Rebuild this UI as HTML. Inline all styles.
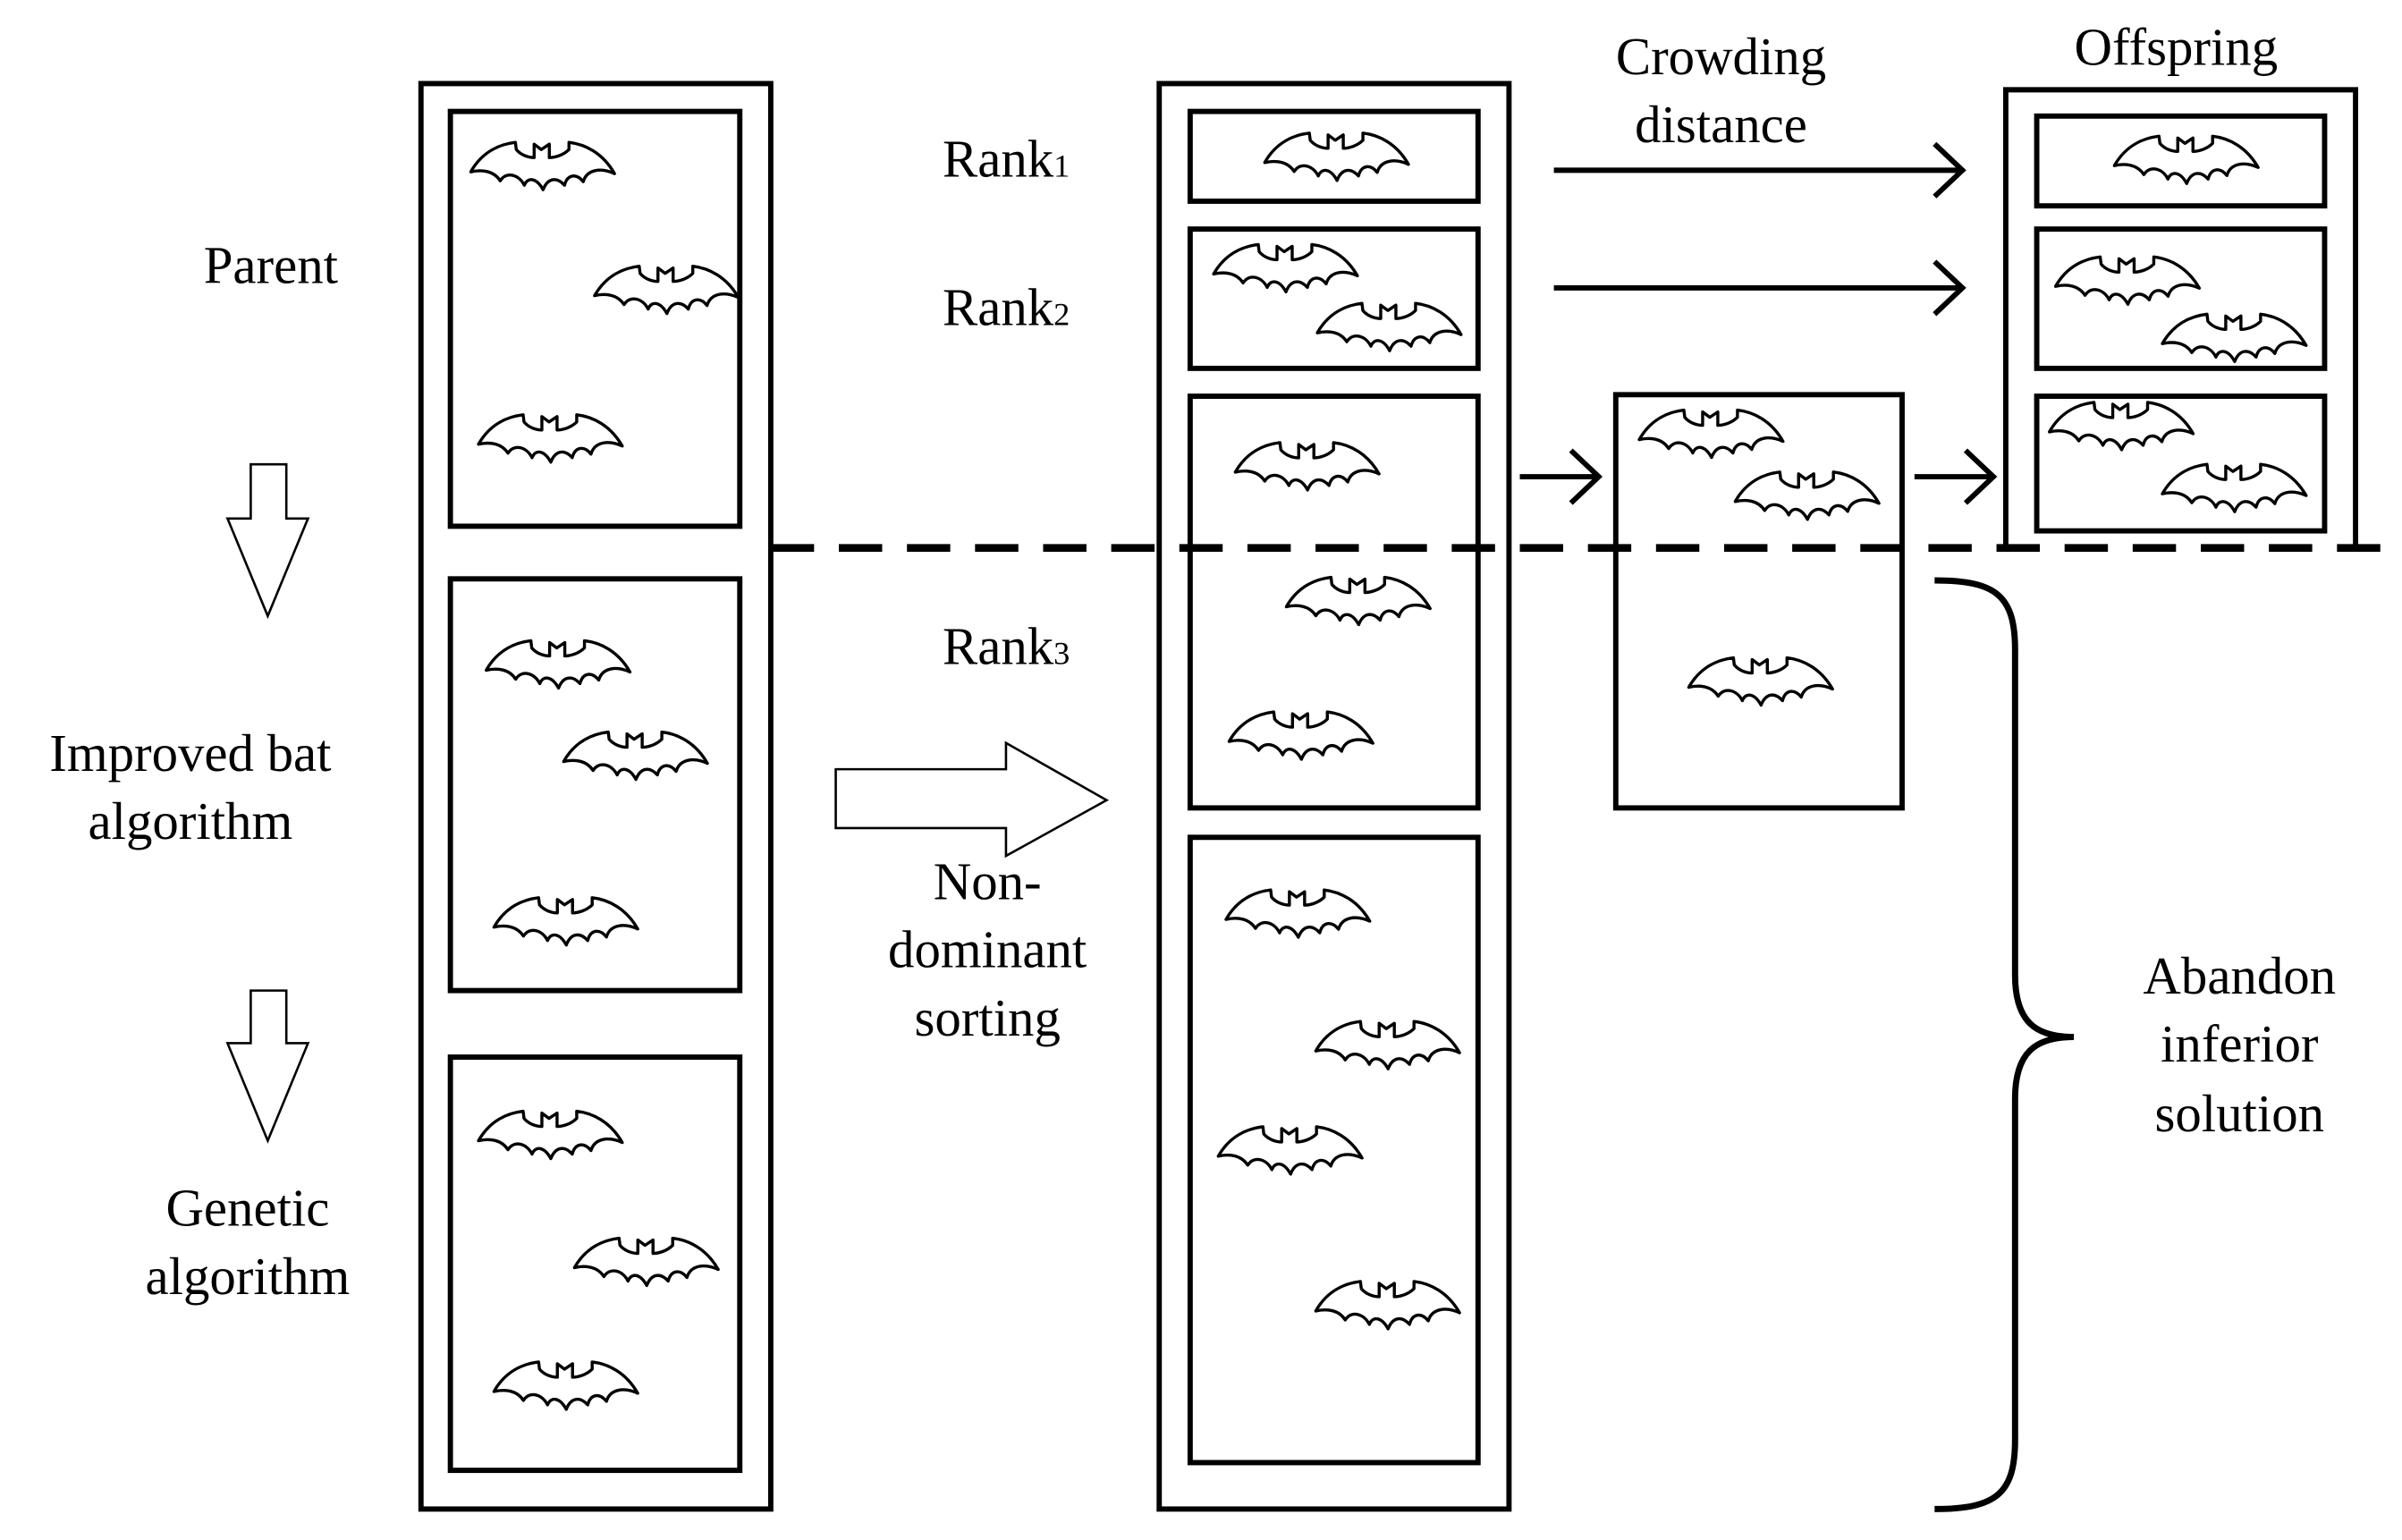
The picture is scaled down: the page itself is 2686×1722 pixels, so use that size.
<!DOCTYPE html>
<html><head><meta charset="utf-8"><style>html,body{margin:0;padding:0;background:#fff}svg{display:block}</style></head><body>
<svg width="2686" height="1722" viewBox="0 0 1552 995" xmlns="http://www.w3.org/2000/svg">
<defs>
<path id="bat" transform="scale(0.577)" fill="#fff" stroke="#000" stroke-width="3.4" stroke-linejoin="round" d="M2,33 C15,10 35,2 52,0 L53,8 C58,14 66,17 73,17 L73,2 L81,8 L90,2 L90,17 C97,17 106,14 112,8 L112,0 C130,2 150,12 163,35 C148,28 132,30 128,44 C120,34 110,36 107,48 C98,38 88,40 83,53 C76,40 66,38 62,48 C56,36 42,32 35,43 C28,32 15,30 2,33 Z"/>
</defs>
<g fill="none" stroke="#000" stroke-width="3.4">
<rect x="272" y="54" width="226" height="921"/>
<rect x="291" y="72" width="187" height="268"/>
<rect x="291" y="374" width="187" height="266"/>
<rect x="291" y="683" width="187" height="267"/>
<rect x="749" y="54" width="226" height="921"/>
<rect x="769" y="72" width="186" height="58"/>
<rect x="769" y="148" width="186" height="90"/>
<rect x="769" y="256" width="186" height="266"/>
<rect x="769" y="541" width="186" height="404"/>
<rect x="1044" y="255" width="185" height="267"/>
<path d="M1296,354 V58 H1522 V354"/>
<rect x="1316" y="75" width="186" height="58"/>
<rect x="1316" y="148" width="186" height="90"/>
<rect x="1316" y="256" width="186" height="87"/>
</g>
<g>
<use href="#bat" x="303" y="92"/><use href="#bat" x="383" y="172"/><use href="#bat" x="308" y="268"/>
<use href="#bat" x="313" y="414"/><use href="#bat" x="363" y="473"/><use href="#bat" x="318" y="580"/>
<use href="#bat" x="308" y="718"/><use href="#bat" x="370" y="800"/><use href="#bat" x="318" y="880"/>
<use href="#bat" x="816" y="86"/><use href="#bat" x="783" y="158"/><use href="#bat" x="850" y="196"/>
<use href="#bat" x="797" y="286"/><use href="#bat" x="830" y="373"/><use href="#bat" x="793" y="460"/>
<use href="#bat" x="791" y="575"/><use href="#bat" x="849" y="660"/><use href="#bat" x="786" y="728"/><use href="#bat" x="849" y="828"/>
<use href="#bat" x="1058" y="265"/><use href="#bat" x="1120" y="305"/><use href="#bat" x="1090" y="425"/>
<use href="#bat" x="1365" y="88"/><use href="#bat" x="1327" y="166"/><use href="#bat" x="1396" y="203"/>
<use href="#bat" x="1323" y="260"/><use href="#bat" x="1396" y="300"/>
</g>
<line x1="498" y1="354" x2="1545" y2="354" stroke="#000" stroke-width="5" stroke-dasharray="28,16"/>
<g fill="none" stroke="#000" stroke-width="3.4">
<path d="M1004,110 H1268 M1250,93 L1268,110 L1250,127"/>
<path d="M1004,186 H1268 M1250,169 L1268,186 L1250,203"/>
<path d="M982,308 H1033 M1015,291 L1033,308 L1015,325"/>
<path d="M1237,308 H1288 M1270,291 L1288,308 L1270,325"/>
<path d="M1250,375 C1290,375 1302,385 1302,420 V630 C1302,660 1315,670 1340,670 C1315,670 1302,680 1302,710 V930 C1302,965 1290,975 1250,975" stroke-width="4"/>
</g>
<g fill="#fff" stroke="#000" stroke-width="1.5">
<path d="M540,497 H650 V480 L715,517 L650,553 V535 H540 Z"/>
<path d="M162,300 H185 V335 H199 L173,398 L147,335 H162 Z"/>
<path d="M162,640 H185 V674 H199 L173,737 L147,674 H162 Z"/>
</g>
<g font-family="Liberation Serif, serif" font-size="34" fill="#000" text-anchor="middle">
<text x="175" y="183">Parent</text>
<text x="123" y="498">Improved bat</text><text x="123" y="542">algorithm</text>
<text x="160" y="792">Genetic</text><text x="160" y="836">algorithm</text>
<text x="1112" y="48">Crowding</text><text x="1112" y="92">distance</text>
<text x="1406" y="42">Offspring</text>
<text x="638" y="581">Non-</text><text x="638" y="625">dominant</text><text x="638" y="669">sorting</text>
<text x="1447" y="642">Abandon</text><text x="1447" y="686">inferior</text><text x="1447" y="731">solution</text>
</g>
<g font-family="Liberation Serif, serif" font-size="34" fill="#000">
<text x="609" y="114">Rank<tspan font-size="21">1</tspan></text>
<text x="609" y="210">Rank<tspan font-size="21">2</tspan></text>
<text x="609" y="429">Rank<tspan font-size="21">3</tspan></text>
</g>
</svg>
</body></html>
